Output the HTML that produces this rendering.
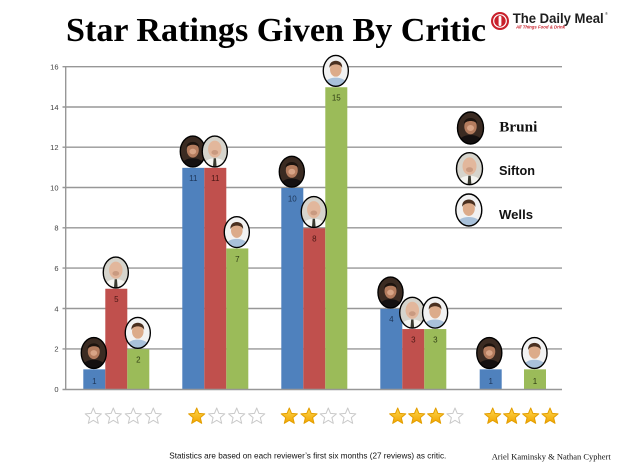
<!DOCTYPE html>
<html><head><meta charset="utf-8"><style>
html,body{margin:0;padding:0;background:#fff;}
svg{display:block;}
</style></head><body>
<svg width="618" height="464" viewBox="0 0 618 464" xmlns="http://www.w3.org/2000/svg">
<defs>
  <linearGradient id="gold" x1="0" y1="0" x2="0" y2="1">
    <stop offset="0" stop-color="#ffd84e"/>
    <stop offset="1" stop-color="#f0a400"/>
  </linearGradient>
  <path id="st" d="M0,-8.5 L2.234,-3.074 L8.084,-2.627 L3.614,1.174 L4.996,6.877 L0,3.8 L-4.996,6.877 L-3.614,1.174 L-8.084,-2.627 L-2.234,-3.074 Z"/>
  <g id="sf"><use href="#st" fill="url(#gold)" stroke="#e39e00" stroke-width="1" stroke-linejoin="round"/></g>
  <g id="se"><use href="#st" fill="#fff" stroke="#c9c9c9" stroke-width="1" stroke-linejoin="round"/></g>
  <clipPath id="ce"><ellipse cx="14" cy="17" rx="13" ry="16"/></clipPath>
  <symbol id="bru" viewBox="0 0 28 34">
    <g clip-path="url(#ce)">
      <rect width="28" height="34" fill="#3b2b22"/>
      <path d="M0 34 C3 26 8 24 14 24 C20 24 25 26 28 34 Z" fill="#141010"/>
      <ellipse cx="14" cy="15.5" rx="6.2" ry="7.8" fill="#b47c5e"/>
      <ellipse cx="14" cy="17" rx="3.5" ry="3" fill="#d8a486"/>
      <path d="M7.5 13 C7 5 21 5 20.5 13 C18.5 9 10 9 7.5 13 Z" fill="#1c130e"/>
    </g>
    <ellipse cx="14" cy="17" rx="13" ry="16" fill="none" stroke="#000" stroke-width="1.4"/>
  </symbol>
  <symbol id="sif" viewBox="0 0 28 34">
    <g clip-path="url(#ce)">
      <rect width="28" height="34" fill="#d6d4cc"/>
      <path d="M0 34 C3 26 8 24 14 24 C20 24 25 26 28 34 Z" fill="#f4f4f0"/>
      <path d="M12.8 24 L15.2 24 L16 34 L12 34 Z" fill="#3a3a30"/>
      <ellipse cx="14" cy="14.5" rx="7" ry="8.8" fill="#e2b79c"/>
      <ellipse cx="14" cy="18" rx="3.5" ry="2.5" fill="#c99a80"/>
    </g>
    <ellipse cx="14" cy="17" rx="13" ry="16" fill="none" stroke="#000" stroke-width="1.4"/>
  </symbol>
  <symbol id="wel" viewBox="0 0 28 34">
    <g clip-path="url(#ce)">
      <rect width="28" height="34" fill="#f2f2f2"/>
      <path d="M0 34 C3 26 8 24 14 24 C20 24 25 26 28 34 Z" fill="#a9c1da"/>
      <ellipse cx="14" cy="15.5" rx="6" ry="7.5" fill="#dcab8a"/>
      <path d="M7.5 14 C6 4 22 4 20.5 14 C19 9 9 9 7.5 14 Z" fill="#4a3020"/>
    </g>
    <ellipse cx="14" cy="17" rx="13" ry="16" fill="none" stroke="#000" stroke-width="1.4"/>
  </symbol>
</defs>

<!-- Title -->
<text x="66" y="41" font-family="Liberation Serif, serif" font-weight="bold" font-size="34" fill="#000" textLength="420" lengthAdjust="spacingAndGlyphs">Star Ratings Given By Critic</text>

<!-- Logo -->
<circle cx="500" cy="21" r="9" fill="#c9202b"/>
<circle cx="500" cy="21" r="6.3" fill="none" stroke="#fff" stroke-width="1.2"/>
<rect x="498.6" y="16" width="2.8" height="10" rx="1.2" fill="#fff"/>
<text x="512.7" y="23" font-family="Liberation Sans, sans-serif" font-weight="bold" font-size="13.5" fill="#1d1d1d" textLength="91" lengthAdjust="spacingAndGlyphs">The Daily Meal</text>
<text x="605" y="15" font-family="Liberation Sans, sans-serif" font-size="4" fill="#333">®</text>
<text x="516" y="28.5" font-family="Liberation Sans, sans-serif" font-style="italic" font-weight="bold" font-size="4.5" fill="#c9202b" textLength="49" lengthAdjust="spacingAndGlyphs">All Things Food &amp; Drink</text>

<!-- Gridlines -->
<g stroke="#979797" stroke-width="1.4">
  <line x1="62.5" y1="66.7" x2="562" y2="66.7"/>
  <line x1="62.5" y1="107" x2="562" y2="107"/>
  <line x1="62.5" y1="147.2" x2="562" y2="147.2"/>
  <line x1="62.5" y1="187.5" x2="562" y2="187.5"/>
  <line x1="62.5" y1="227.8" x2="562" y2="227.8"/>
  <line x1="62.5" y1="268.1" x2="562" y2="268.1"/>
  <line x1="62.5" y1="308.5" x2="562" y2="308.5"/>
  <line x1="62.5" y1="348.9" x2="562" y2="348.9"/>
  <line x1="65.7" y1="66" x2="65.7" y2="389.5"/>
</g>

<!-- Y labels -->
<g font-family="Liberation Sans, sans-serif" font-size="7.5" fill="#404040" text-anchor="end">
  <text x="58.5" y="69.5">16</text>
  <text x="58.5" y="109.8">14</text>
  <text x="58.5" y="150">12</text>
  <text x="58.5" y="190.3">10</text>
  <text x="58.5" y="230.6">8</text>
  <text x="58.5" y="270.9">6</text>
  <text x="58.5" y="311.3">4</text>
  <text x="58.5" y="351.7">2</text>
  <text x="58.5" y="392">0</text>
</g>

<!-- Bars -->
<g>
  <rect x="83.3" y="369.35" width="22" height="20.15" fill="#4f81bd"/>
  <rect x="105.3" y="288.75" width="22" height="100.75" fill="#c0504d"/>
  <rect x="127.3" y="349.2" width="22" height="40.3" fill="#9bbb59"/>

  <rect x="182.3" y="167.85" width="22" height="221.65" fill="#4f81bd"/>
  <rect x="204.3" y="167.85" width="22" height="221.65" fill="#c0504d"/>
  <rect x="226.3" y="248.45" width="22" height="141.05" fill="#9bbb59"/>

  <rect x="281.3" y="188" width="22" height="201.5" fill="#4f81bd"/>
  <rect x="303.3" y="228.3" width="22" height="161.2" fill="#c0504d"/>
  <rect x="325.3" y="87.25" width="22" height="302.25" fill="#9bbb59"/>

  <rect x="380.3" y="308.9" width="22" height="80.6" fill="#4f81bd"/>
  <rect x="402.3" y="329.05" width="22" height="60.45" fill="#c0504d"/>
  <rect x="424.3" y="329.05" width="22" height="60.45" fill="#9bbb59"/>

  <rect x="479.7" y="369.35" width="22" height="20.15" fill="#4f81bd"/>
  <rect x="524" y="369.35" width="22" height="20.15" fill="#9bbb59"/>
</g>
<line x1="62.5" y1="389.5" x2="562" y2="389.5" stroke="#979797" stroke-width="1.4"/>

<!-- Value labels -->
<g font-family="Liberation Sans, sans-serif" font-size="8" text-anchor="middle">
  <text x="94.3" y="384" fill="#1d3557">1</text>
  <text x="116.3" y="302" fill="#4a1614">5</text>
  <text x="138.3" y="362.5" fill="#2f3d14">2</text>
  <text x="193.3" y="181" fill="#1d3557">11</text>
  <text x="215.3" y="181" fill="#4a1614">11</text>
  <text x="237.3" y="261.8" fill="#2f3d14">7</text>
  <text x="292.3" y="201.3" fill="#1d3557">10</text>
  <text x="314.3" y="241.6" fill="#4a1614">8</text>
  <text x="336.3" y="100.5" fill="#2f3d14">15</text>
  <text x="391.3" y="322.2" fill="#1d3557">4</text>
  <text x="413.3" y="342.4" fill="#4a1614">3</text>
  <text x="435.3" y="342.4" fill="#2f3d14">3</text>
  <text x="490.7" y="384" fill="#1d3557">1</text>
  <text x="535" y="384" fill="#2f3d14">1</text>
</g>

<!-- Faces on bars -->
<use href="#bru" x="80.3" y="336.5" width="27" height="33"/>
<use href="#sif" x="102.3" y="256" width="27" height="33"/>
<use href="#wel" x="124.3" y="316.4" width="27" height="33"/>

<use href="#bru" x="179.3" y="135" width="27" height="33"/>
<use href="#sif" x="201.3" y="135" width="27" height="33"/>
<use href="#wel" x="223.3" y="215.6" width="27" height="33"/>

<use href="#bru" x="278.3" y="155.2" width="27" height="33"/>
<use href="#wel" x="322.3" y="54.4" width="27" height="33"/>
<use href="#sif" x="300.3" y="195.5" width="27" height="33"/>

<use href="#bru" x="377" y="276" width="27" height="33"/>
<use href="#sif" x="398.8" y="296.2" width="27" height="33"/>
<use href="#wel" x="421.6" y="296.2" width="27" height="33"/>

<use href="#bru" x="475.8" y="336.5" width="27" height="33"/>
<use href="#wel" x="521" y="336.5" width="27" height="33"/>

<!-- Legend -->
<use href="#bru" x="456.5" y="111" width="28" height="34"/>
<use href="#sif" x="455.5" y="151.7" width="28" height="34"/>
<use href="#wel" x="454.8" y="193" width="28" height="34"/>
<text x="499.3" y="131.5" font-family="Liberation Serif, serif" font-weight="bold" font-size="14.5" fill="#111" textLength="38" lengthAdjust="spacingAndGlyphs">Bruni</text>
<text x="499" y="175" font-family="Liberation Sans, sans-serif" font-weight="bold" font-size="13" fill="#111" textLength="36" lengthAdjust="spacingAndGlyphs">Sifton</text>
<text x="499" y="219" font-family="Liberation Sans, sans-serif" font-weight="bold" font-size="13" fill="#111" textLength="34" lengthAdjust="spacingAndGlyphs">Wells</text>

<!-- Stars -->
<g transform="translate(0,416.5)">
  <use href="#se" x="93.3"/><use href="#se" x="113.3"/><use href="#se" x="133.3"/><use href="#se" x="153.3"/>
  <use href="#sf" x="196.7"/><use href="#se" x="216.7"/><use href="#se" x="236.7"/><use href="#se" x="256.7"/>
  <use href="#sf" x="289.3"/><use href="#sf" x="309"/><use href="#se" x="328.3"/><use href="#se" x="347.7"/>
  <use href="#sf" x="397.7"/><use href="#sf" x="416.7"/><use href="#sf" x="435.7"/><use href="#se" x="455"/>
  <use href="#sf" x="492.7"/><use href="#sf" x="511.7"/><use href="#sf" x="530.7"/><use href="#sf" x="550"/>
</g>

<!-- Footer -->
<text x="169.3" y="458.3" font-family="Liberation Sans, sans-serif" font-size="8.5" fill="#111" textLength="277" lengthAdjust="spacingAndGlyphs">Statistics are based on each reviewer’s first six months (27 reviews) as critic.</text>
<text x="491.7" y="459.5" font-family="Liberation Serif, serif" font-size="8.5" fill="#111" textLength="119" lengthAdjust="spacingAndGlyphs">Ariel Kaminsky &amp; Nathan Cyphert</text>
</svg>
</body></html>
